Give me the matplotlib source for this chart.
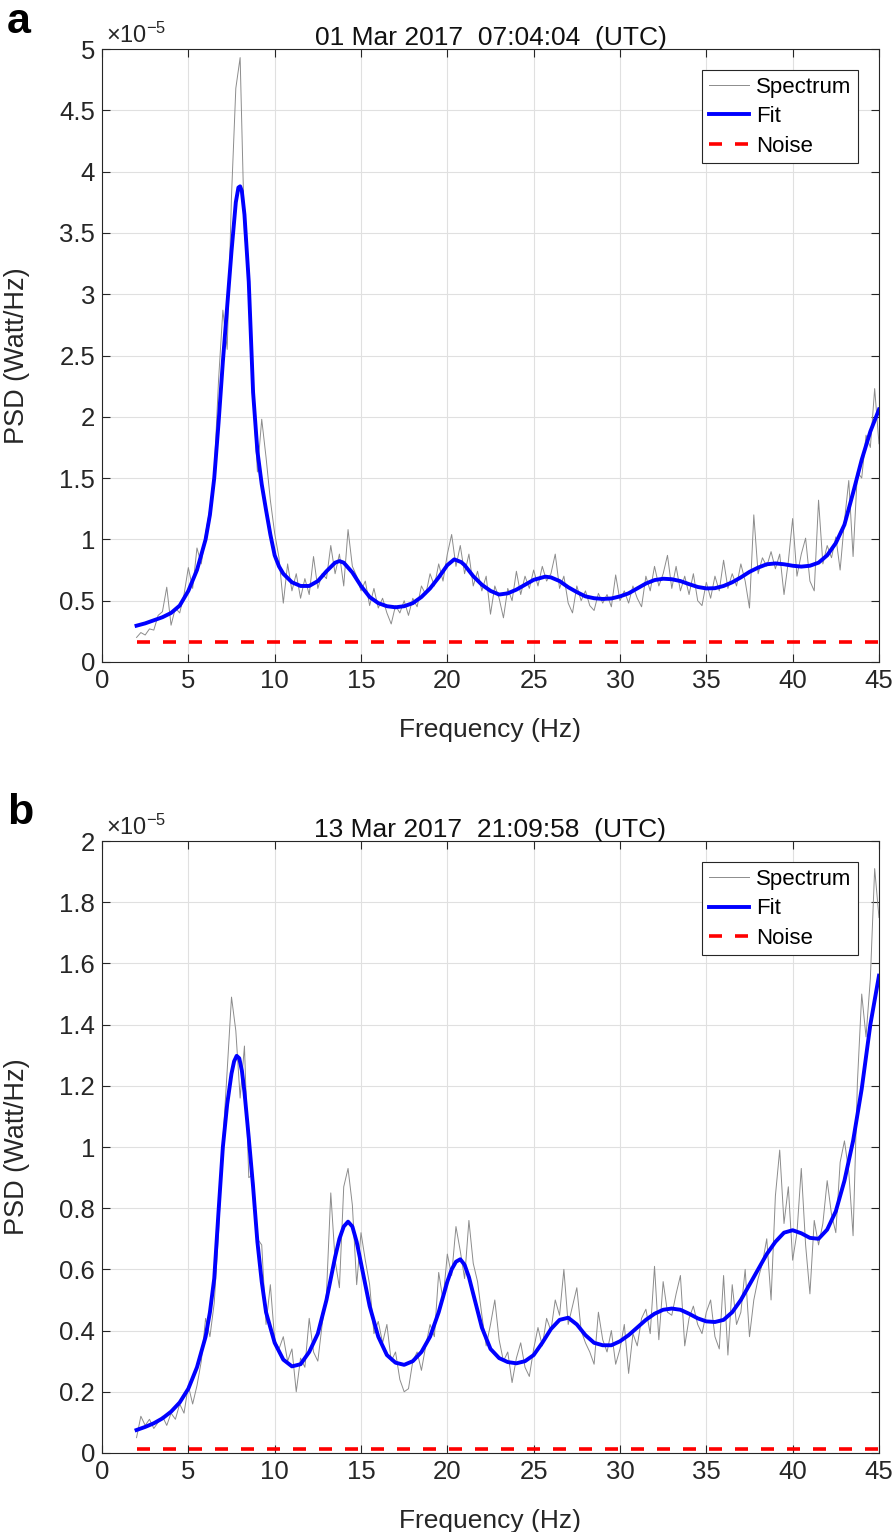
import numpy as np
import matplotlib.pyplot as plt
from matplotlib.ticker import FuncFormatter, MultipleLocator

plt.rcParams['font.family'] = ['Liberation Sans', 'DejaVu Sans']
plt.rcParams['mathtext.fontset'] = 'custom'
plt.rcParams['mathtext.rm'] = 'Liberation Sans'
plt.rcParams['mathtext.it'] = 'Liberation Sans'

# spectrum sampled every 0.25 Hz, values in units of 1e-5 Watt/Hz
spec_freq = np.arange(2.0, 45.01, 0.25)

spec_a = [
    0.20, 0.24, 0.22, 0.27, 0.26, 0.38, 0.41, 0.61,
    0.30, 0.44, 0.40, 0.55, 0.77, 0.60, 0.93, 0.80,
    1.05, 1.25, 1.55, 2.30, 2.87, 2.55, 3.80, 4.68,
    4.93, 3.49, 3.20, 2.17, 1.55, 1.98, 1.67, 1.32,
    1.05, 0.85, 0.48, 0.80, 0.58, 0.72, 0.52, 0.68,
    0.55, 0.86, 0.60, 0.72, 0.68, 0.95, 0.72, 0.88,
    0.62, 1.08, 0.78, 0.70, 0.58, 0.66, 0.46, 0.60,
    0.44, 0.52, 0.40, 0.31, 0.46, 0.40, 0.50, 0.38,
    0.52, 0.45, 0.62, 0.55, 0.72, 0.62, 0.80, 0.66,
    0.88, 1.04, 0.78, 0.95, 0.72, 0.88, 0.62, 0.74,
    0.58, 0.70, 0.39, 0.62, 0.52, 0.36, 0.60, 0.50,
    0.74, 0.55, 0.70, 0.60, 0.75, 0.62, 0.78, 0.66,
    0.72, 0.88, 0.60, 0.70, 0.48, 0.40, 0.62, 0.50,
    0.58, 0.46, 0.42, 0.56, 0.48, 0.55, 0.45, 0.71,
    0.50, 0.58, 0.48, 0.62, 0.52, 0.45, 0.70, 0.58,
    0.78, 0.62, 0.72, 0.87, 0.60, 0.78, 0.58, 0.70,
    0.55, 0.72, 0.50, 0.46, 0.65, 0.52, 0.70, 0.58,
    0.83, 0.60, 0.72, 0.62, 0.80, 0.66, 0.44, 1.20,
    0.72, 0.85, 0.78, 0.90, 0.76, 0.88, 0.55, 0.82,
    1.17, 0.70, 0.88, 1.01, 0.66, 0.58, 1.32, 0.80,
    0.95, 0.85, 1.02, 0.75, 1.15, 1.48, 0.86, 1.55,
    1.50, 1.85, 1.75, 2.23, 1.78,
]

spec_b = [
    0.05, 0.12, 0.09, 0.11, 0.08, 0.10, 0.12, 0.09,
    0.13, 0.11, 0.16, 0.13, 0.22, 0.16, 0.22, 0.30,
    0.44, 0.38, 0.49, 0.72, 1.02, 1.25, 1.49, 1.38,
    1.16, 1.33, 0.90, 0.91, 0.70, 0.68, 0.42, 0.55,
    0.37, 0.34, 0.38, 0.30, 0.34, 0.20, 0.31, 0.28,
    0.44, 0.33, 0.30, 0.42, 0.52, 0.85, 0.63, 0.54,
    0.87, 0.93, 0.81, 0.55, 0.72, 0.63, 0.55, 0.39,
    0.43, 0.36, 0.42, 0.30, 0.33, 0.24, 0.20, 0.21,
    0.30, 0.33, 0.27, 0.35, 0.42, 0.38, 0.59, 0.50,
    0.65, 0.58, 0.74, 0.66, 0.57, 0.76, 0.62, 0.56,
    0.45, 0.35, 0.42, 0.50, 0.37, 0.30, 0.33, 0.23,
    0.31, 0.36, 0.28, 0.25, 0.34, 0.41, 0.35, 0.44,
    0.40, 0.50, 0.45, 0.60, 0.42, 0.48, 0.54, 0.40,
    0.36, 0.33, 0.29, 0.46, 0.37, 0.33, 0.40, 0.29,
    0.34, 0.42, 0.26, 0.39, 0.35, 0.44, 0.47, 0.39,
    0.61, 0.37, 0.56, 0.46, 0.45, 0.52, 0.58, 0.35,
    0.44, 0.48, 0.42, 0.39, 0.46, 0.50, 0.38, 0.34,
    0.58, 0.32, 0.55, 0.42, 0.46, 0.60, 0.38, 0.50,
    0.57, 0.62, 0.70, 0.50, 0.84, 0.99, 0.75, 0.87,
    0.63, 0.72, 0.93, 0.68, 0.52, 0.76, 0.68, 0.75,
    0.89, 0.78, 0.72, 0.95, 1.02, 0.92, 0.71, 1.21,
    1.50, 1.36, 1.55, 1.91, 1.75,
]

# fitted curves (Hz, 1e-5 Watt/Hz)
fit_a_freq = [2.0, 2.5, 3.0, 3.5, 4.0, 4.5, 5.0, 5.5, 6.0, 6.25, 6.5, 6.75,
              7.0, 7.25, 7.5, 7.75, 7.9, 8.0, 8.1, 8.25, 8.5, 8.75, 9.0, 9.25,
              9.5, 9.75, 10.0, 10.25, 10.5, 11.0, 11.5, 12.0, 12.5, 13.0, 13.5,
              13.75, 14.0, 14.5, 15.0, 15.5, 16.0, 16.5, 17.0, 17.5, 18.0, 18.5,
              19.0, 19.5, 20.0, 20.4, 20.8, 21.0, 21.5, 22.0, 22.5, 23.0, 23.5,
              24.0, 24.5, 25.0, 25.67, 26.0, 26.5, 27.0, 27.5, 28.0, 28.5, 29.0,
              29.5, 30.0, 30.5, 31.0, 31.5, 32.0, 32.5, 33.0, 33.5, 34.0, 34.5,
              35.0, 35.5, 36.0, 36.5, 37.0, 37.5, 38.0, 38.5, 39.0, 39.5, 40.0,
              40.5, 41.0, 41.5, 42.0, 42.5, 43.0, 43.5, 44.0, 44.5, 45.0]
fit_a = [0.296, 0.315, 0.34, 0.365, 0.40, 0.46, 0.58, 0.75, 1.0, 1.2, 1.5, 1.95,
         2.45, 2.9, 3.35, 3.75, 3.87, 3.88, 3.84, 3.65, 3.1, 2.2, 1.72, 1.45,
         1.24, 1.04, 0.87, 0.78, 0.72, 0.65, 0.62, 0.62, 0.66, 0.74, 0.81,
         0.823, 0.81, 0.73, 0.62, 0.53, 0.48, 0.455, 0.446, 0.455, 0.48, 0.53,
         0.60, 0.69, 0.79, 0.837, 0.815, 0.79, 0.70, 0.63, 0.58, 0.55, 0.56,
         0.59, 0.63, 0.67, 0.696, 0.69, 0.66, 0.61, 0.57, 0.535, 0.52, 0.514,
         0.518, 0.535, 0.56, 0.60, 0.64, 0.668, 0.679, 0.675, 0.66, 0.635, 0.612,
         0.60, 0.602, 0.62, 0.65, 0.69, 0.735, 0.77, 0.797, 0.804, 0.797, 0.785,
         0.778, 0.785, 0.81, 0.87, 0.97, 1.12, 1.38, 1.65, 1.88, 2.06]

fit_b_freq = [2.0, 2.5, 3.0, 3.5, 4.0, 4.5, 5.0, 5.5, 6.0, 6.25, 6.5, 6.75,
              7.0, 7.25, 7.5, 7.65, 7.8, 7.95, 8.1, 8.25, 8.5, 8.75, 9.0, 9.25,
              9.5, 10.0, 10.5, 11.0, 11.5, 12.0, 12.5, 13.0, 13.5, 13.75, 14.0,
              14.25, 14.5, 14.75, 15.0, 15.5, 16.0, 16.5, 17.0, 17.5, 18.0, 18.5,
              19.0, 19.5, 20.0, 20.25, 20.5, 20.75, 21.0, 21.25, 21.5, 22.0, 22.5,
              23.0, 23.5, 24.0, 24.5, 25.0, 25.5, 26.0, 26.5, 27.0, 27.5, 28.0,
              28.5, 29.0, 29.5, 30.0, 30.5, 31.0, 31.5, 32.0, 32.5, 33.0, 33.5,
              34.0, 34.5, 35.0, 35.5, 36.0, 36.5, 37.0, 37.5, 38.0, 38.5, 39.0,
              39.5, 40.0, 40.5, 41.0, 41.5, 42.0, 42.5, 43.0, 43.5, 44.0, 44.5,
              45.0]
fit_b = [0.075, 0.085, 0.097, 0.113, 0.135, 0.165, 0.21, 0.28, 0.38, 0.46, 0.57, 0.79,
         1.0, 1.14, 1.24, 1.28, 1.298, 1.29, 1.25, 1.18, 1.03, 0.87, 0.69, 0.56,
         0.46, 0.36, 0.305, 0.283, 0.29, 0.33, 0.39, 0.50, 0.64, 0.70, 0.74,
         0.756, 0.74, 0.69, 0.62, 0.48, 0.38, 0.32, 0.295, 0.288, 0.30, 0.33,
         0.38, 0.46, 0.56, 0.60, 0.625, 0.633, 0.615, 0.575, 0.52, 0.41, 0.34,
         0.31, 0.297, 0.293, 0.30, 0.32, 0.36, 0.405, 0.435, 0.442, 0.42, 0.385,
         0.36, 0.352, 0.352, 0.365, 0.385, 0.41, 0.435, 0.455, 0.468, 0.472, 0.468,
         0.455, 0.44, 0.43, 0.428, 0.435, 0.46, 0.50, 0.55, 0.60, 0.65, 0.69,
         0.72, 0.728, 0.718, 0.703, 0.70, 0.73, 0.79, 0.89, 1.02, 1.19, 1.40,
         1.56]

noise_a = 0.163
noise_b = 0.012

titles = ['01 Mar 2017  07:04:04  (UTC)', '13 Mar 2017  21:09:58  (UTC)']
letters = ['a', 'b']
ymax = [5, 2]
ystep = [0.5, 0.2]

fig = plt.figure(figsize=(8.94, 15.32), dpi=100)
axes = [fig.add_axes([0.1141, 0.5679, 0.8691, 0.4001]),
        fig.add_axes([0.1141, 0.0516, 0.8691, 0.3994])]

panels = [(spec_a, fit_a_freq, fit_a, noise_a), (spec_b, fit_b_freq, fit_b, noise_b)]
edge = '#262626'

for i, ax in enumerate(axes):
    spec, ff, fv, nz = panels[i]
    ax.plot(spec_freq, spec, color='#8c8c8c', lw=0.7, label='Spectrum')
    ax.plot(ff, fv, color='#0000ff', lw=2.8, label='Fit', solid_joinstyle='round')
    ax.plot([spec_freq[0], spec_freq[-1]], [nz, nz], color='#ff0000', lw=2.6,
            dashes=(3.6, 3.6), label='Noise')

    ax.set_xlim(0, 45)
    ax.set_ylim(0, ymax[i])
    ax.xaxis.set_major_locator(MultipleLocator(5))
    ax.yaxis.set_major_locator(MultipleLocator(ystep[i]))
    ax.yaxis.set_major_formatter(FuncFormatter(lambda v, p: '%g' % round(v, 2)))
    ax.grid(True, color='#e0e0e0', lw=0.8)
    ax.set_axisbelow(True)
    ax.tick_params(direction='in', length=6, width=0.8, top=True, right=True,
                   labelsize=18.5, colors=edge, pad=5)
    for s in ax.spines.values():
        s.set_color(edge)
        s.set_linewidth(0.8)
    ax.set_xlabel('Frequency (Hz)', fontsize=19, color=edge, labelpad=18)
    ax.set_ylabel('PSD (Watt/Hz)', fontsize=19.5, color=edge, labelpad=21)
    ax.set_title(titles[i], fontsize=19, color='#111111', pad=3)
    ax.text(0.005, 1.002, r'$\times10^{-5}$', transform=ax.transAxes,
            fontsize=17, color=edge, va='bottom', ha='left')
    leg = ax.legend(loc='upper right', fontsize=16, handlelength=1.8,
                    borderaxespad=0.95, fancybox=False, framealpha=1,
                    borderpad=0.3, labelspacing=0.38, handletextpad=0.3)
    leg.get_frame().set_edgecolor(edge)
    leg.get_frame().set_linewidth(0.8)

fig.text(0.008, 0.999, 'a', fontsize=31, weight='bold', va='top', ha='left')
fig.text(0.008, 0.4825, 'b', fontsize=31, weight='bold', va='top', ha='left')

fig.savefig('out.png', dpi=100)
